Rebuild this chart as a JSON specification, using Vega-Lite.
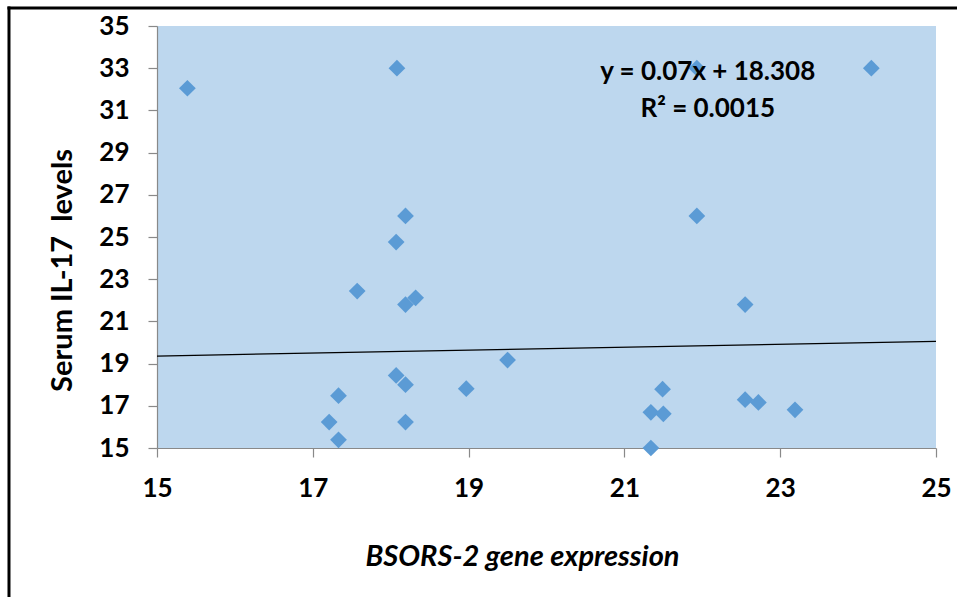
{
  "$schema": "https://vega.github.io/schema/vega-lite/v6.json",
  "width": 779,
  "height": 422,
  "autosize": {"type": "none"},
  "padding": {"left": 157, "top": 26, "right": 21, "bottom": 149},
  "background": "white",
  "config": {
    "view": {"fill": "#BDD7EE", "stroke": null},
    "font": "Lato",
    "axis": {
      "grid": false,
      "domainColor": "#898989",
      "domainWidth": 1.2,
      "tickColor": "#898989",
      "tickWidth": 1.2,
      "tickSize": 9,
      "labelFont": "Lato",
      "labelFontWeight": "bold",
      "labelFontSize": 26,
      "labelColor": "black",
      "titleFont": "Lato",
      "titleFontWeight": "bold",
      "titleColor": "black",
      "labelFlush": false,
      "labelOverlap": false,
      "format": "d"
    }
  },
  "datasets": {
    "points": [
      {"x": 15.39, "y": 32.05},
      {"x": 18.08, "y": 33.0},
      {"x": 21.93, "y": 33.0},
      {"x": 24.17, "y": 33.0},
      {"x": 18.19, "y": 26.0},
      {"x": 21.93, "y": 26.0},
      {"x": 18.07, "y": 24.76},
      {"x": 17.57, "y": 22.44},
      {"x": 18.19, "y": 21.8},
      {"x": 18.32, "y": 22.12},
      {"x": 22.55, "y": 21.8},
      {"x": 19.5, "y": 19.17},
      {"x": 18.07, "y": 18.44},
      {"x": 18.19, "y": 18.0},
      {"x": 18.97, "y": 17.81},
      {"x": 17.33, "y": 17.48},
      {"x": 17.21, "y": 16.23},
      {"x": 18.19, "y": 16.23},
      {"x": 17.33, "y": 15.39},
      {"x": 21.49, "y": 17.79},
      {"x": 21.34, "y": 16.69},
      {"x": 21.5, "y": 16.62},
      {"x": 21.34, "y": 15.0},
      {"x": 22.55, "y": 17.29},
      {"x": 22.72, "y": 17.16},
      {"x": 23.19, "y": 16.81}
    ],
    "trend": [
      {"x": 15, "y": 19.358},
      {"x": 25, "y": 20.058}
    ],
    "labels": [
      {"x": 22.07, "y": 32.44, "text": "y = 0.07x + 18.308"},
      {"x": 22.07, "y": 30.7, "text": "R² = 0.0015"}
    ]
  },
  "layer": [
    {
      "data": {"name": "points"},
      "mark": {"type": "point", "shape": "diamond", "filled": true, "size": 280, "color": "#5B9BD5", "opacity": 1},
      "encoding": {
        "x": {
          "field": "x", "type": "quantitative",
          "scale": {"domain": [15, 25], "nice": false, "zero": false},
          "axis": {
            "values": [15, 17, 19, 21, 23, 25],
            "format": "d",
            "labelPadding": 18,
            "title": "BSORS-2 gene expression",
            "titleFontSize": 29,
            "titleFontStyle": "italic",
            "titleX": 365,
            "titleY": 117,
            "titleAlign": "center",
            "titleBaseline": "alphabetic"
          }
        },
        "y": {
          "field": "y", "type": "quantitative",
          "scale": {"domain": [15, 35], "nice": false, "zero": false},
          "axis": {
            "values": [15, 17, 19, 21, 23, 25, 27, 29, 31, 33, 35],
            "format": "d",
            "labelPadding": 19,
            "title": "Serum IL-17\u00a0 levels",
            "titleFontSize": 29,
            "titleX": -86,
            "titleY": 244,
            "titleAngle": 270,
            "titleAlign": "center",
            "titleBaseline": "alphabetic"
          }
        }
      }
    },
    {
      "data": {"name": "trend"},
      "mark": {"type": "line", "color": "black", "strokeWidth": 1.3},
      "encoding": {
        "x": {"field": "x", "type": "quantitative"},
        "y": {"field": "y", "type": "quantitative"}
      }
    },
    {
      "data": {"name": "labels"},
      "mark": {"type": "text", "font": "Lato", "fontWeight": "bold", "fontSize": 26, "align": "center", "baseline": "alphabetic", "color": "black"},
      "encoding": {
        "x": {"field": "x", "type": "quantitative"},
        "y": {"field": "y", "type": "quantitative"},
        "text": {"field": "text", "type": "nominal"}
      }
    },
    {
      "data": {"values": [{}]},
      "mark": {"type": "rule", "color": "black", "strokeWidth": 3, "clip": false},
      "encoding": {
        "x": {"datum": 13.1, "type": "quantitative"},
        "y": {"datum": 35.92, "type": "quantitative"},
        "y2": {"datum": 7}
      }
    },
    {
      "data": {"values": [{}]},
      "mark": {"type": "rule", "color": "black", "strokeWidth": 3, "clip": false},
      "encoding": {
        "x": {"datum": 13.08, "type": "quantitative"},
        "x2": {"datum": 27},
        "y": {"datum": 35.853, "type": "quantitative"}
      }
    }
  ]
}
